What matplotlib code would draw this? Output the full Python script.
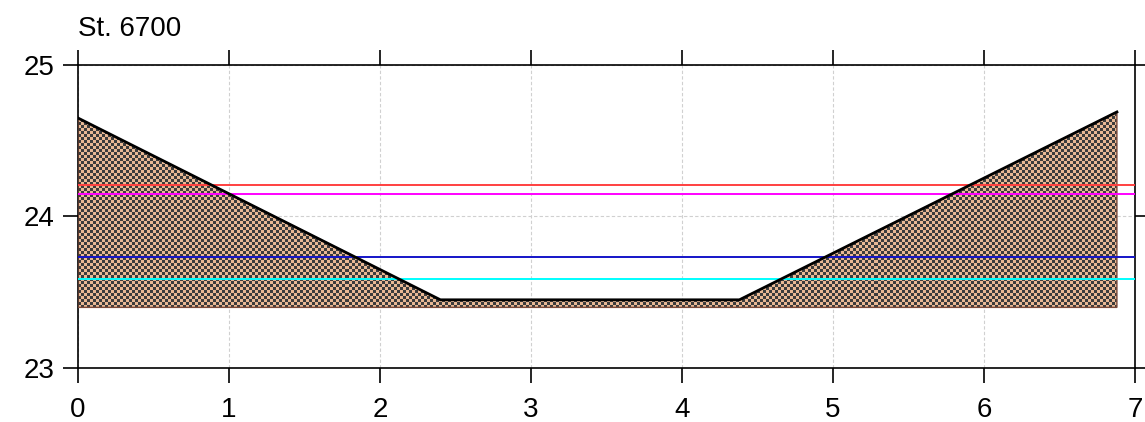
import numpy as np
import matplotlib
matplotlib.use("Agg")
import matplotlib.pyplot as plt
from matplotlib.patches import Polygon

plt.rcParams['font.family'] = ['Liberation Sans', 'DejaVu Sans']

# cross section profile (distance, level)
profile_x = [0.0, 2.4, 4.38, 6.88]
profile_z = [24.65, 23.45, 23.45, 24.69]
base_level = 23.4

# water levels
water_levels = [24.21, 24.15, 23.73, 23.59]
water_colors = ['#ff4040', '#ff00ff', '#1414c8', '#00ffff']

title = "St. 6700"
x_ticks = [0, 1, 2, 3, 4, 5, 6, 7]
y_ticks = [23, 24, 25]


def main():
    fig = plt.figure(figsize=(11.45, 4.22), dpi=100)
    ax = fig.add_axes([0.0681, 0.128, 0.9232, 0.718])
    ax.set_xlim(0, 7)
    ax.set_ylim(23, 25)

    # filled ground below the profile
    verts = list(zip(profile_x, profile_z))
    verts += [(profile_x[-1], base_level), (profile_x[0], base_level)]
    poly = Polygon(verts, closed=True, facecolor='none', edgecolor='#7a4a3a',
                   lw=1.0, zorder=3)
    ax.add_patch(poly)

    # checkerboard texture, ~3px cells
    nx, ny = 352, 101
    ii, jj = np.meshgrid(np.arange(nx), np.arange(ny))
    checker = ((ii + jj) % 2).astype(float)
    cmap = matplotlib.colors.ListedColormap(['#e8b894', '#3c3c3c'])
    im = ax.imshow(checker, cmap=cmap, extent=[0, 7, 23, 25], origin='lower',
                   interpolation='nearest', aspect='auto', zorder=2)
    im.set_clip_path(poly)

    ax.plot(profile_x, profile_z, color='black', lw=2.0, zorder=5)

    for lvl, col in zip(water_levels, water_colors):
        ax.plot([0, 7], [lvl, lvl], color=col, lw=1.4, zorder=4)

    ax.set_xticks(x_ticks)
    ax.set_yticks(y_ticks)
    ax.grid(True, color='#d0d0d0', ls=(0, (3, 2)), lw=0.8, zorder=1)
    ax.set_axisbelow(True)
    ax.tick_params(direction='out', length=11, width=1.2, labelsize=20,
                   top=True, right=True, labeltop=False, labelright=False)
    ax.tick_params(axis='x', pad=10)
    ax.tick_params(axis='y', pad=6)
    for sp in ax.spines.values():
        sp.set_linewidth(1.2)

    ax.set_title(title, loc='left', fontsize=20, pad=21)

    fig.savefig("out.png", dpi=100)


if __name__ == "__main__":
    main()
